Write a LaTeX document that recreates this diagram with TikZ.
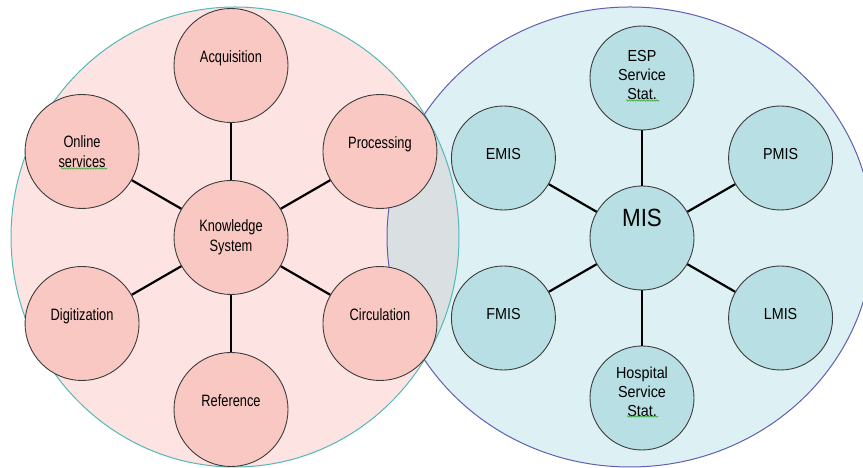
\documentclass[tikz,border=0pt]{standalone}
\usepackage{fontspec}
\setmainfont{Liberation Sans}
\newfontfamily\pinksans{Liberation Sans}[FakeStretch=0.78]
\newfontfamily\bluesans{Liberation Sans}[FakeStretch=0.9]
\usetikzlibrary{calc,decorations.pathmorphing}
\definecolor{bigpink}{RGB}{253,228,226}
\definecolor{bigblue}{RGB}{221,240,244}
\definecolor{overlapgray}{RGB}{218,224,225}
\definecolor{smallpink}{RGB}{249,200,194}
\definecolor{smallblue}{RGB}{184,223,227}
\definecolor{rimteal}{RGB}{84,184,184}
\definecolor{rimblue}{RGB}{96,96,176}
\definecolor{rimgray}{RGB}{60,60,60}
\definecolor{spellgreen}{RGB}{60,170,60}

\begin{document}
\begin{tikzpicture}[
    x=1bp, y=1bp,
    bubble/.style={circle, draw=rimgray, line width=0.9bp, inner sep=0pt, align=center},
    pinkbubble/.style={bubble, fill=smallpink, minimum size=114bp, font=\pinksans\fontsize{16.5}{20}\selectfont},
    bluebubble/.style={bubble, fill=smallblue, minimum size=104bp, font=\bluesans\fontsize{16}{19}\selectfont},
    raised/.style={text height=11.5bp, text depth=#1},
    raised/.default=16.5bp,
    spoke/.style={line width=2.2bp},
    squiggle/.style={draw=spellgreen, line width=0.6bp, decorate, decoration={snake, amplitude=0.7bp, segment length=2.5bp}}
]
    \useasboundingbox (0,0) rectangle (863,468);

    % the two large groups
    \coordinate (leftc) at (235,231);
    \coordinate (rightc) at (630,231);
    \fill[bigpink] (leftc) ellipse [x radius=224, y radius=230];
    \fill[bigblue] (rightc) ellipse [x radius=243, y radius=230];
    \begin{scope}
        \clip (leftc) ellipse [x radius=224, y radius=230];
        \fill[overlapgray] (rightc) ellipse [x radius=243, y radius=230];
    \end{scope}
    \draw[rimteal, line width=1bp] (leftc) ellipse [x radius=224, y radius=230];
    \draw[rimblue, line width=1bp] (rightc) ellipse [x radius=243, y radius=230];

    % knowledge system
    \node[pinkbubble] (ks) at (231,230.5) {Knowledge\\System};
    \node[pinkbubble, raised] (acq) at ($(ks)+(90:172)$) {Acquisition};
    \node[pinkbubble, raised] (proc) at ($(ks)+(30:172)$) {Processing};
    \node[pinkbubble, raised] (circ) at ($(ks)+(-30:172)$) {Circulation};
    \node[pinkbubble, raised] (ref) at ($(ks)+(-90:172)$) {Reference};
    \node[pinkbubble, raised] (dig) at ($(ks)+(-150:172)$) {Digitization};
    \node[pinkbubble] (onl) at ($(ks)+(150:172)$) {Online\\services};

    \draw[spoke] (ks) -- (acq);
    \draw[spoke] (ks) -- (proc);
    \draw[spoke] (ks) -- (circ);
    \draw[spoke] (ks) -- (ref);
    \draw[spoke] (ks) -- (dig);
    \draw[spoke] (ks) -- (onl);

    % MIS
    \node[bluebubble, text height=18bp, text depth=40bp, font=\bluesans\fontsize{25}{28}\selectfont] (mis) at (642,230) {MIS};
    \node[bluebubble, text depth=6bp] (esp) at ($(mis)+(90:160)$) {ESP\\Service\\Stat.};
    \node[bluebubble, raised=7.5bp] (pmis) at ($(mis)+(30:160)$) {PMIS};
    \node[bluebubble, raised=8.5bp] (lmis) at ($(mis)+(-30:160)$) {LMIS};
    \node[bluebubble, text depth=12bp] (hosp) at ($(mis)+(-90:160)$) {Hospital\\Service\\Stat.};
    \node[bluebubble, raised=8.5bp] (fmis) at ($(mis)+(-150:160)$) {FMIS};
    \node[bluebubble, raised=7.5bp] (emis) at ($(mis)+(150:160)$) {EMIS};

    \draw[spoke] (mis) -- (esp);
    \draw[spoke] (mis) -- (pmis);
    \draw[spoke] (mis) -- (lmis);
    \draw[spoke] (mis) -- (hosp);
    \draw[spoke] (mis) -- (fmis);
    \draw[spoke] (mis) -- (emis);

    % spell-check marks
    \draw[squiggle] ($(onl)+(-21,-17)$) -- ($(onl)+(25,-17)$);
    \draw[squiggle] ($(esp)+(-16,-22.5)$) -- ($(esp)+(17,-22.5)$);
    \draw[squiggle] ($(hosp)+(-15,-18.5)$) -- ($(hosp)+(16,-18.5)$);
\end{tikzpicture}
\end{document}
